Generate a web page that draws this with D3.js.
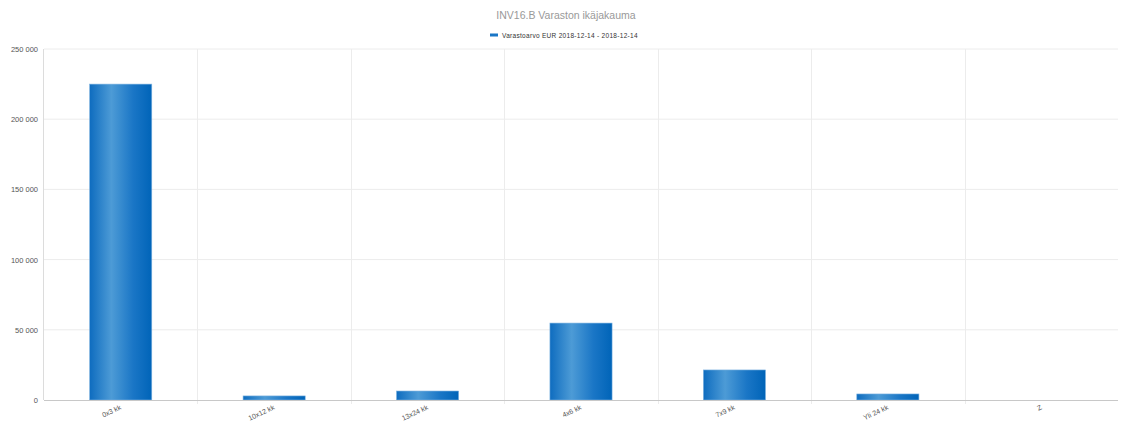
<!DOCTYPE html>
<html>
<head>
<meta charset="utf-8">
<script src="https://cdn.jsdelivr.net/npm/d3@7"></script>
<style>
  body { margin: 0; background: #fff; }
  svg { display: block; font-family: "Liberation Sans", Arial, sans-serif; }
</style>
</head>
<body>
<div id="chart"></div>
<script>
const categories = ['0x3 kk', '10x12 kk', '13x24 kk', '4x6 kk', '7x9 kk', 'Yli 24 kk', 'Z'];
const values = [225000, 2900, 6400, 54800, 21400, 4300, 0];
const yTicks = [0, 50000, 100000, 150000, 200000, 250000];
const title = 'INV16.B Varaston ikäjakauma';
const seriesName = 'Varastoarvo EUR 2018-12-14 - 2018-12-14';

const W = 1122, H = 424;
const margin = {top: 49, right: 4, bottom: 24, left: 44};
const width = W - margin.left - margin.right;
const height = H - margin.top - margin.bottom;

const svg = d3.select('#chart').append('svg')
    .attr('width', W).attr('height', H);

const defs = svg.append('defs');
const grad = defs.append('linearGradient').attr('id', 'barGrad')
    .attr('x1', '0%').attr('x2', '100%').attr('y1', '0%').attr('y2', '0%');
grad.append('stop').attr('offset', '0%').attr('stop-color', '#0e6cbf');
grad.append('stop').attr('offset', '35%').attr('stop-color', '#4d9bd6');
grad.append('stop').attr('offset', '70%').attr('stop-color', '#1a76c6');
grad.append('stop').attr('offset', '100%').attr('stop-color', '#0064b8');

// Title and legend
svg.append('text')
    .attr('x', W / 2 + 5).attr('y', 19)
    .attr('text-anchor', 'middle')
    .attr('font-size', 10.5).attr('fill', '#999')
    .text(title);

const legend = svg.append('g').attr('transform', 'translate(490,35)');
legend.append('rect').attr('x', 0).attr('y', -1.5).attr('width', 8).attr('height', 3)
    .attr('fill', '#1a76c6');
legend.append('text').attr('x', 12).attr('y', 2.5)
    .attr('font-size', 6.5).attr('fill', '#333')
    .attr('letter-spacing', 0.3)
    .text(seriesName);

const g = svg.append('g').attr('transform', `translate(${margin.left},${margin.top})`);

const x = d3.scaleBand().domain(categories).range([0, width]).paddingInner(0).paddingOuter(0);
const y = d3.scaleLinear().domain([0, 250000]).range([height, 0]);

// horizontal grid
g.append('g').selectAll('line').data(yTicks.filter(d => d > 0)).enter().append('line')
    .attr('x1', 0).attr('x2', width)
    .attr('y1', d => y(d)).attr('y2', d => y(d))
    .attr('stroke', '#ececec').attr('stroke-width', 1);

// vertical grid between categories
g.append('g').selectAll('line').data(categories.slice(1)).enter().append('line')
    .attr('x1', d => Math.round(x(d)) + 0.5).attr('x2', d => Math.round(x(d)) + 0.5)
    .attr('y1', 0).attr('y2', height + 4)
    .attr('stroke', '#ececec').attr('stroke-width', 1);

// y axis line
g.append('line')
    .attr('x1', -0.5).attr('x2', -0.5).attr('y1', 0).attr('y2', height)
    .attr('stroke', '#dcdcdc');

// y labels
const fmt = d => d3.format(',')(d).replace(/,/g, ' ');
g.append('g').selectAll('text').data(yTicks).enter().append('text')
    .attr('x', -6).attr('y', d => y(d) + 3)
    .attr('text-anchor', 'end')
    .attr('font-size', 7.5).attr('fill', '#555')
    .text(fmt);

// bars
const barW = x.bandwidth() * 0.405;
g.append('g').selectAll('rect').data(values).enter().append('rect')
    .attr('x', (d, i) => x(categories[i]) + (x.bandwidth() - barW) / 2)
    .attr('y', d => y(d))
    .attr('width', barW)
    .attr('height', d => height - y(d))
    .attr('fill', 'url(#barGrad)')
    .attr('stroke', d => d > 0 ? '#7fb3e0' : 'none')
    .attr('stroke-width', 0.6);

// x axis line
g.append('line')
    .attr('x1', 0).attr('x2', width).attr('y1', height + 0.5).attr('y2', height + 0.5)
    .attr('stroke', '#c8c8c8');

// x labels
g.append('g').selectAll('text').data(categories).enter().append('text')
    .attr('transform', d => `translate(${x(d) + x.bandwidth() / 2 + 1},${height + 9}) rotate(-25)`)
    .attr('text-anchor', 'end')
    .attr('font-size', 7).attr('fill', '#555')
    .text(d => d);
</script>
</body>
</html>
